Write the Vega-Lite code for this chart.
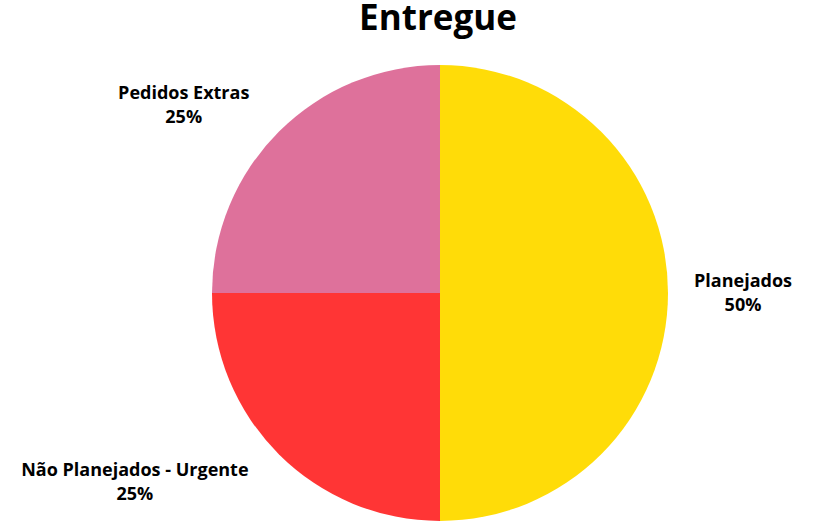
{
  "$schema": "https://vega.github.io/schema/vega-lite/v6.json",
  "autosize": "none",
  "width": 746,
  "height": 458,
  "padding": {"left": 67, "top": 64, "right": 0, "bottom": 0},
  "background": "white",
  "title": {
    "text": "Entregue",
    "font": "Open Sans",
    "fontSize": 35,
    "fontWeight": "bold",
    "color": "#000000",
    "anchor": "middle",
    "frame": "group",
    "baseline": "alphabetic",
    "dx": -2,
    "offset": -1
  },
  "data": {
    "values": [
      {"categoria": "Planejados", "valor": 50, "ordem": 1},
      {"categoria": "Não Planejados - Urgente", "valor": 25, "ordem": 2},
      {"categoria": "Pedidos Extras", "valor": 25, "ordem": 3}
    ]
  },
  "transform": [
    {"stack": "valor", "groupby": [], "sort": [{"field": "ordem", "order": "ascending"}], "as": ["v0", "v1"]},
    {"calculate": "datum.categoria + '\\n' + datum.valor + '%'", "as": "rotulo"}
  ],
  "encoding": {
    "theta": {"field": "v0", "type": "quantitative", "scale": {"domain": [0, 100]}},
    "color": {
      "field": "categoria",
      "type": "nominal",
      "scale": {
        "domain": ["Planejados", "Não Planejados - Urgente", "Pedidos Extras"],
        "range": ["#FFDC08", "#FF3535", "#DE719B"]
      },
      "legend": null
    }
  },
  "layer": [
    {"mark": {"type": "arc", "outerRadius": 228}, "encoding": {"theta2": {"field": "v1"}}},
    {
      "transform": [{"filter": "datum.categoria === 'Planejados'"}],
      "mark": {
        "type": "text",
        "radius": 303,
        "thetaOffset": 1.5708,
        "dy": -11,
        "font": "Open Sans",
        "fontWeight": "bold",
        "fontSize": 18,
        "lineBreak": "\n",
        "lineHeight": 24,
        "align": "center",
        "baseline": "middle"
      },
      "encoding": {"text": {"field": "rotulo"}, "color": {"value": "#000000"}}
    },
    {
      "transform": [{"filter": "datum.categoria === 'Não Planejados - Urgente'"}],
      "mark": {
        "type": "text",
        "radius": 359,
        "thetaOffset": 1.0158,
        "dy": -11,
        "font": "Open Sans",
        "fontWeight": "bold",
        "fontSize": 18,
        "lineBreak": "\n",
        "lineHeight": 24,
        "align": "center",
        "baseline": "middle"
      },
      "encoding": {"text": {"field": "rotulo"}, "color": {"value": "#000000"}}
    },
    {
      "transform": [{"filter": "datum.categoria === 'Pedidos Extras'"}],
      "mark": {
        "type": "text",
        "radius": 318,
        "thetaOffset": 0.6336,
        "dy": -11,
        "font": "Open Sans",
        "fontWeight": "bold",
        "fontSize": 18,
        "lineBreak": "\n",
        "lineHeight": 24,
        "align": "center",
        "baseline": "middle"
      },
      "encoding": {"text": {"field": "rotulo"}, "color": {"value": "#000000"}}
    }
  ]
}
